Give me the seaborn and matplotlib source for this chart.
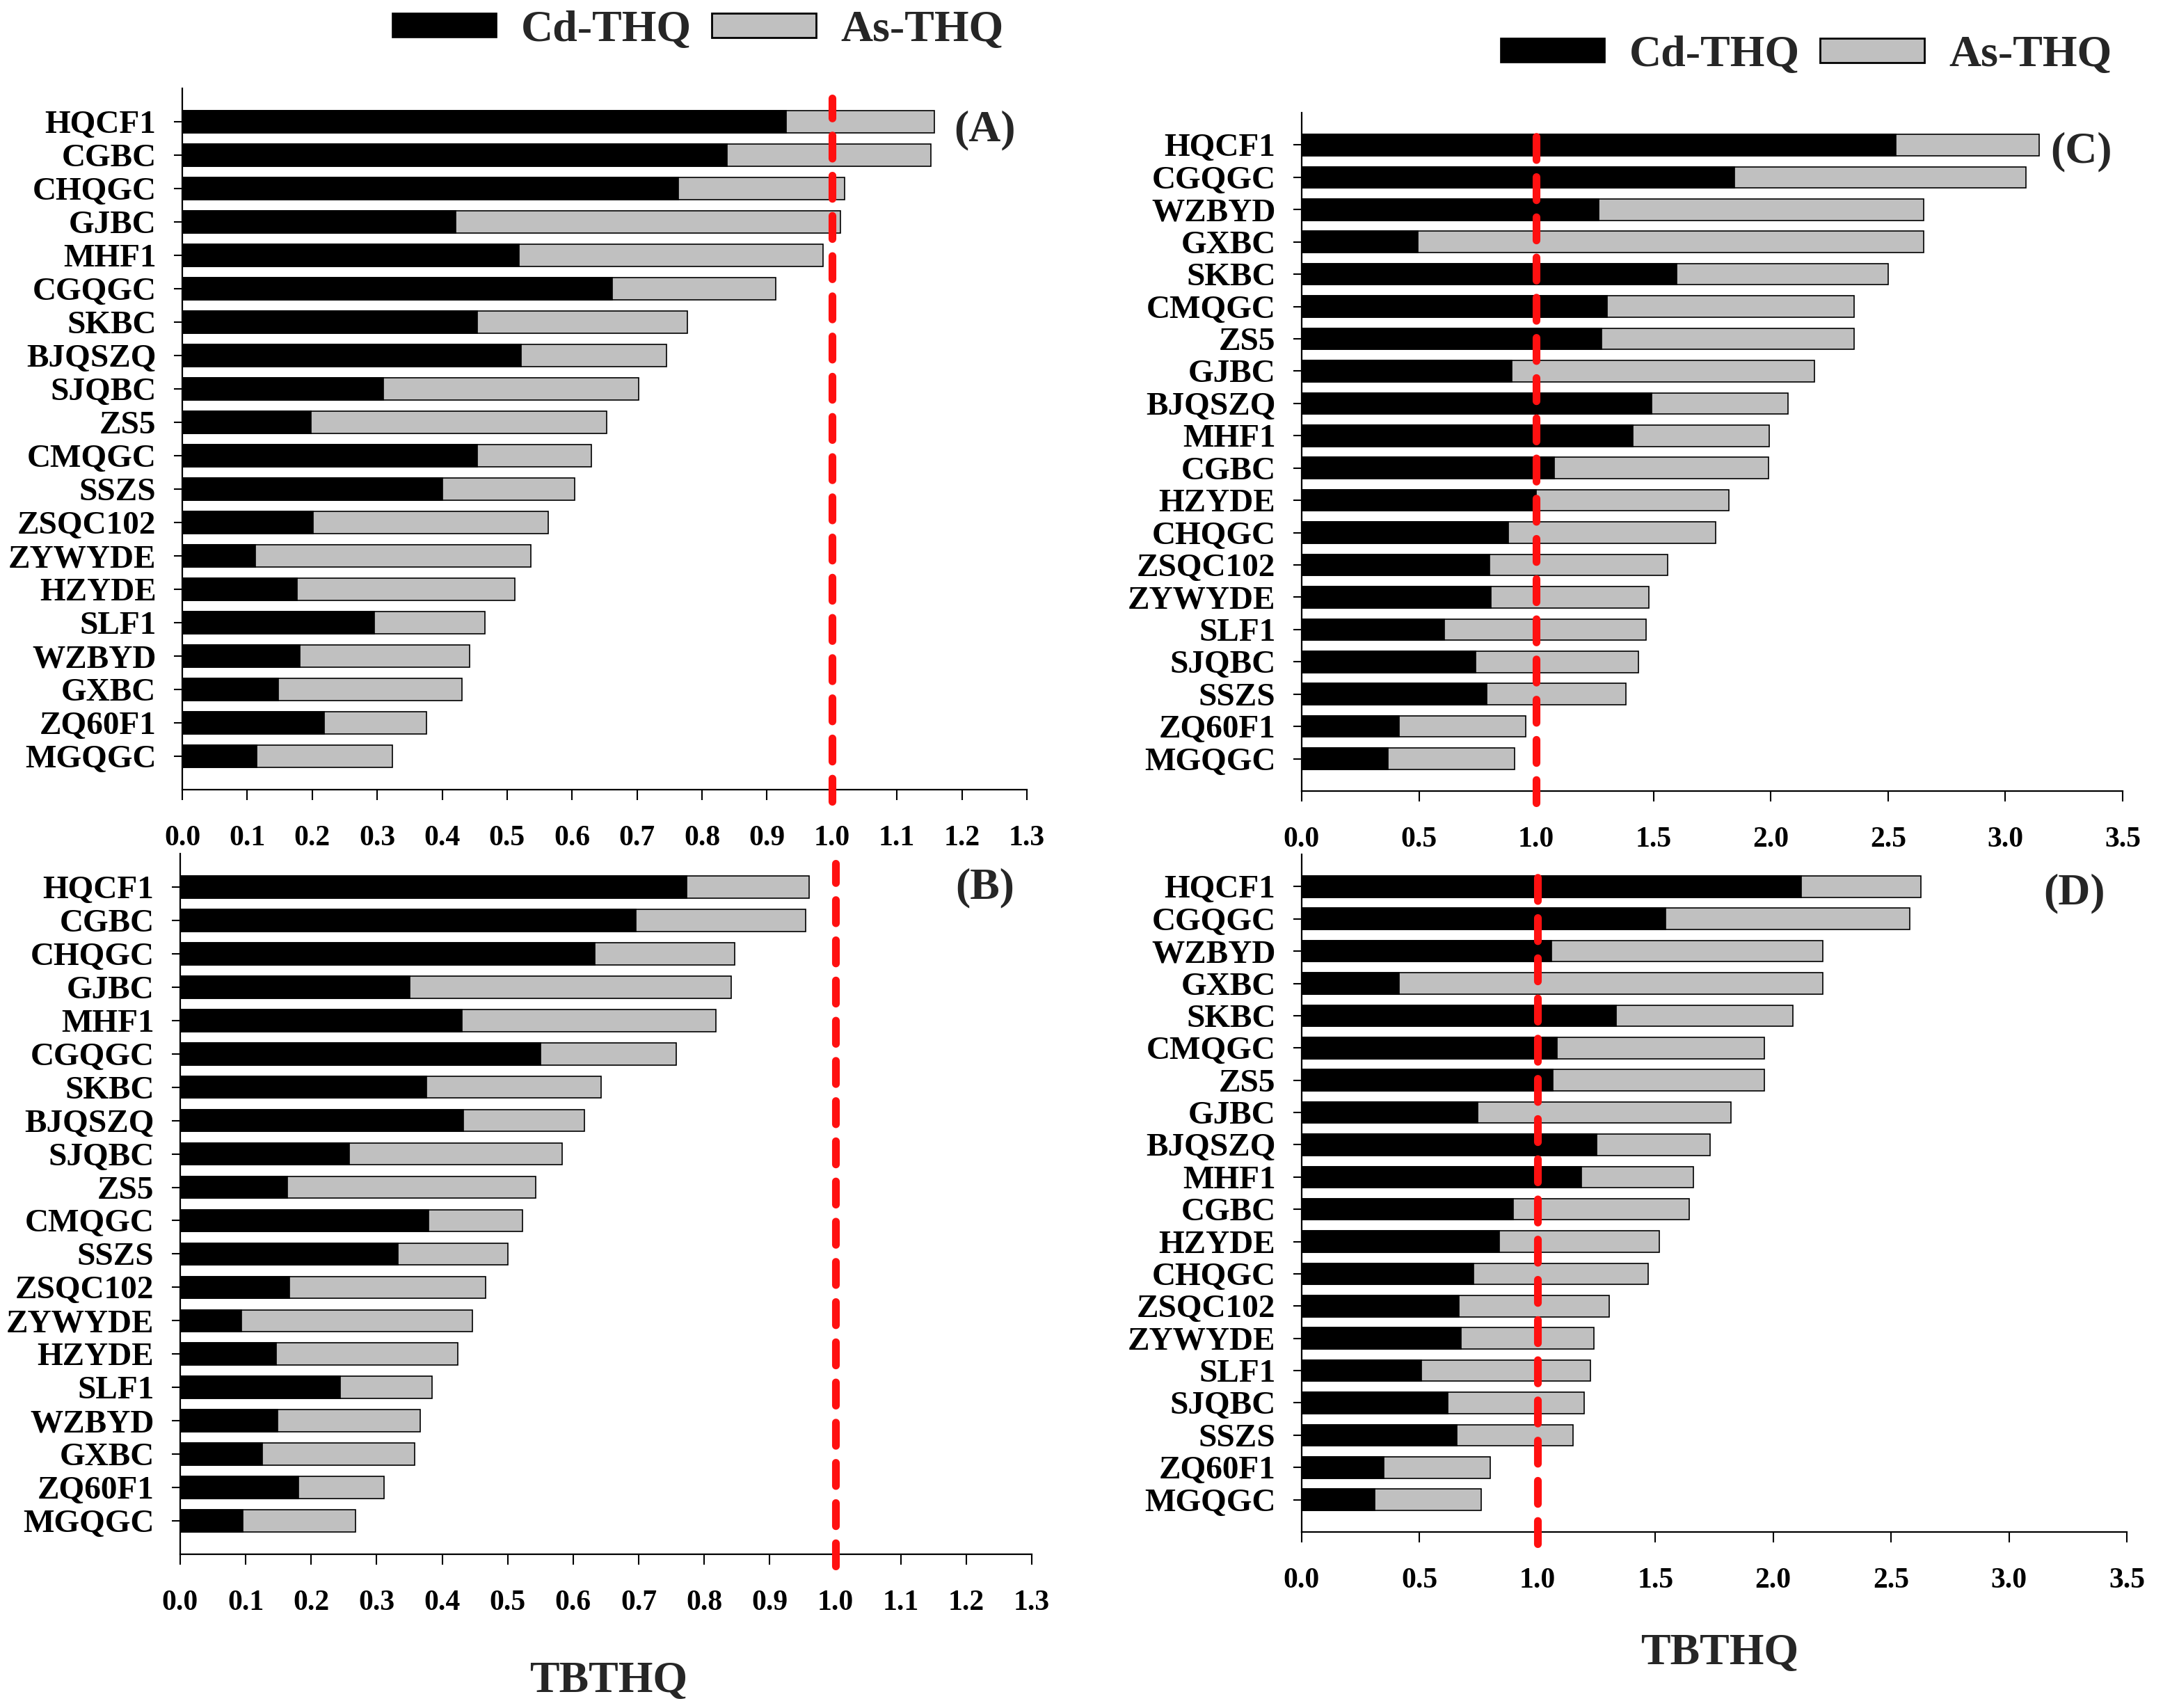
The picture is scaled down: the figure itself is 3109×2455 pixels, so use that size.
import matplotlib
matplotlib.use("Agg")
import matplotlib.pyplot as plt
import seaborn as sns
import pandas as pd
from matplotlib.patches import Patch

# ---------------- data ----------------
cats_ab = ["HQCF1", "CGBC", "CHQGC", "GJBC", "MHF1", "CGQGC", "SKBC", "BJQSZQ", "SJQBC", "ZS5",
           "CMQGC", "SSZS", "ZSQC102", "ZYWYDE", "HZYDE", "SLF1", "WZBYD", "GXBC", "ZQ60F1", "MGQGC"]
cd_a = [0.930, 0.838, 0.764, 0.421, 0.518, 0.662, 0.454, 0.521, 0.310, 0.198,
        0.454, 0.400, 0.201, 0.112, 0.177, 0.296, 0.181, 0.148, 0.218, 0.115]
as_a = [0.228, 0.314, 0.255, 0.592, 0.468, 0.251, 0.323, 0.224, 0.392, 0.455,
        0.176, 0.204, 0.362, 0.425, 0.335, 0.170, 0.261, 0.282, 0.158, 0.208]
cd_b = [0.773, 0.696, 0.633, 0.351, 0.430, 0.550, 0.376, 0.432, 0.258, 0.164,
        0.379, 0.332, 0.167, 0.093, 0.147, 0.244, 0.149, 0.125, 0.181, 0.096]
as_b = [0.187, 0.259, 0.213, 0.490, 0.388, 0.207, 0.267, 0.185, 0.325, 0.379,
        0.144, 0.168, 0.299, 0.353, 0.277, 0.141, 0.217, 0.233, 0.130, 0.172]

cats_cd = ["HQCF1", "CGQGC", "WZBYD", "GXBC", "SKBC", "CMQGC", "ZS5", "GJBC", "BJQSZQ", "MHF1",
           "CGBC", "HZYDE", "CHQGC", "ZSQC102", "ZYWYDE", "SLF1", "SJQBC", "SSZS", "ZQ60F1", "MGQGC"]
cd_c = [2.533, 1.846, 1.268, 0.496, 1.598, 1.302, 1.279, 0.895, 1.493, 1.413,
        1.077, 1.000, 0.880, 0.801, 0.806, 0.607, 0.741, 0.789, 0.416, 0.368]
as_c = [0.612, 1.242, 1.384, 2.156, 0.901, 1.054, 1.077, 1.290, 0.581, 0.581,
        0.912, 0.820, 0.884, 0.760, 0.675, 0.860, 0.695, 0.593, 0.538, 0.541]
cd_d = [2.119, 1.543, 1.060, 0.412, 1.335, 1.082, 1.065, 0.747, 1.250, 1.185,
        0.898, 0.838, 0.730, 0.668, 0.676, 0.509, 0.619, 0.659, 0.349, 0.310]
as_d = [0.506, 1.037, 1.150, 1.798, 0.747, 0.881, 0.898, 1.074, 0.483, 0.477,
        0.747, 0.679, 0.739, 0.636, 0.563, 0.715, 0.580, 0.492, 0.452, 0.451]

xticks_ab = [0.0, 0.1, 0.2, 0.3, 0.4, 0.5, 0.6, 0.7, 0.8, 0.9, 1.0, 1.1, 1.2, 1.3]
xticks_cd = [0.0, 0.5, 1.0, 1.5, 2.0, 2.5, 3.0, 3.5]
threshold = 1.0
series_names = ["Cd-THQ", "As-THQ"]
panel_letters = ["(A)", "(B)", "(C)", "(D)"]
xlabel_text = "TBTHQ"

# ---------------- style ----------------
sns.set_style("ticks")
plt.rcParams["font.family"] = ["Liberation Serif", "DejaVu Serif"]
plt.rcParams["font.weight"] = "bold"

GRAY = "#C0C0C0"
W, H = 3109, 2455
fig = plt.figure(figsize=(W / 100, H / 100), dpi=100)

# axes rectangles in pixels: left, top, right, bottom
rects = {
    "A": (262, 127, 1476, 1135),
    "B": (259, 1227, 1483, 2234),
    "C": (1871, 162, 3051, 1137),
    "D": (1871, 1228, 3057, 2202),
}

panels = [
    ("A", cats_ab, cd_a, as_a, xticks_ab, 1.3, (1416, 187)),
    ("B", cats_ab, cd_b, as_b, xticks_ab, 1.3, (1416, 1276)),
    ("C", cats_cd, cd_c, as_c, xticks_cd, 3.5, (2991, 218)),
    ("D", cats_cd, cd_d, as_d, xticks_cd, 3.5, (2981, 1284)),
]

for i, (key, cats, cd, asv, xt, xmax, lpos) in enumerate(panels):
    l, t, r, b = rects[key]
    ax = fig.add_axes([l / W, 1 - b / H, (r - l) / W, (b - t) / H])
    df = pd.DataFrame({"cat": cats, "cd": cd, "as": asv})
    df["total"] = df["cd"] + df["as"]
    sns.barplot(data=df, x="total", y="cat", order=cats, color=GRAY, saturation=1,
                edgecolor="black", linewidth=1.2, width=0.66, errorbar=None, ax=ax,
                orient="h")
    sns.barplot(data=df, x="cd", y="cat", order=cats, color="black", saturation=1,
                edgecolor="black", linewidth=1.2, width=0.66, errorbar=None, ax=ax,
                orient="h")
    ax.set_xlim(0, xmax)
    ax.set_ylim(20, -1)
    ax.set_xticks(xt)
    ax.set_xticklabels([f"{v:.1f}" for v in xt])
    ax.set_xlabel("")
    ax.set_ylabel("")
    sns.despine(ax=ax)
    for s in ["left", "bottom"]:
        ax.spines[s].set_linewidth(1.6)
        ax.spines[s].set_color("black")
    ax.tick_params(axis="x", direction="out", length=11, width=1.5, pad=26,
                   labelsize=30, colors="black")
    ax.tick_params(axis="y", direction="out", length=9, width=1.5, pad=18,
                   labelsize=34, colors="black")
    for lab in ax.get_xticklabels() + ax.get_yticklabels():
        lab.set_fontweight("bold")
    ax.axvline(threshold, ymin=-0.017, ymax=0.986, color="#FF1010", lw=8,
               linestyle=(0, (3.0, 2.2)), dash_capstyle="round", clip_on=False, zorder=5)
    fig.text(lpos[0] / W, 1 - lpos[1] / H, panel_letters[i], fontsize=46,
             fontweight="bold", ha="center", va="center")

handles = [Patch(facecolor="black", edgecolor="black", linewidth=1.2),
           Patch(facecolor=GRAY, edgecolor="black", linewidth=2.0)]
leg_kw = dict(ncol=2, frameon=False, handlelength=2.35, handleheight=0.47,
              handletextpad=0.55, columnspacing=0.45, borderpad=0, borderaxespad=0,
              loc="center", prop={"weight": "bold", "size": 46})
fig.legend(handles, series_names, bbox_to_anchor=(1003 / W, 1 - 44 / H), **leg_kw)
fig.legend(handles, series_names, bbox_to_anchor=(2596 / W, 1 - 80 / H), **leg_kw)

fig.text(875 / W, 1 - 2417 / H, xlabel_text, fontsize=46, fontweight="bold",
         ha="center", va="center")
fig.text(2472 / W, 1 - 2377 / H, xlabel_text, fontsize=46, fontweight="bold",
         ha="center", va="center")

fig.savefig("out.png", dpi=100, facecolor="white")
